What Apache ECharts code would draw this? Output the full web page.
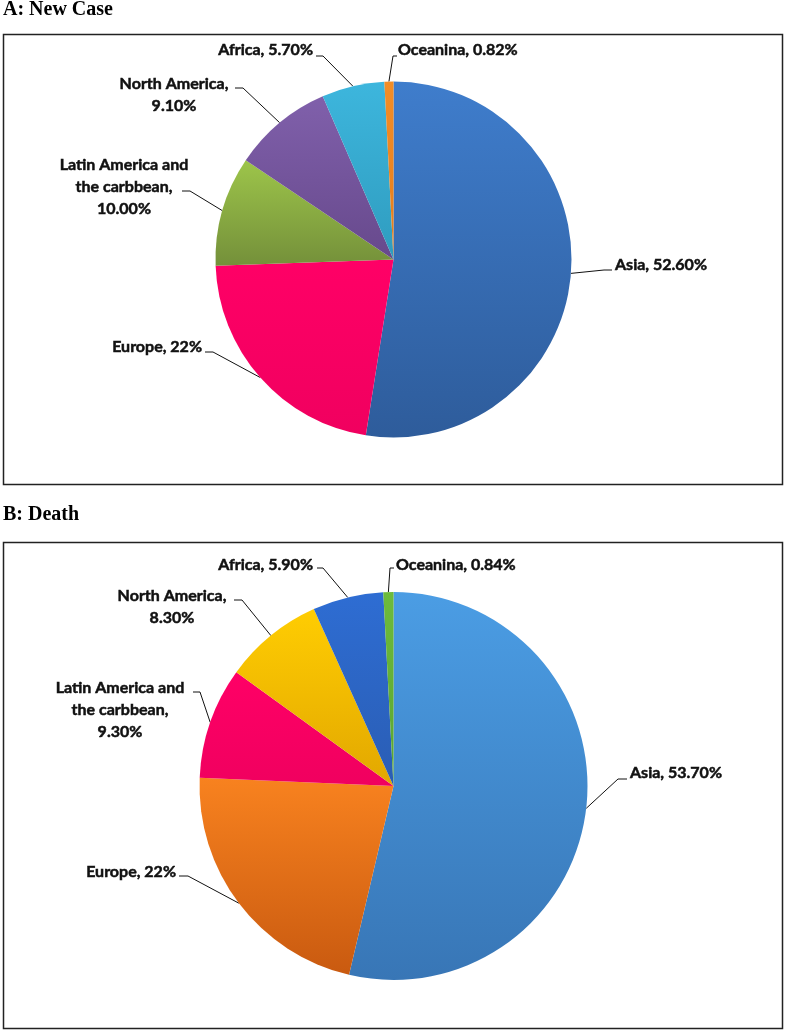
<!DOCTYPE html>
<html>
<head>
<meta charset="utf-8">
<script src="https://cdn.jsdelivr.net/npm/echarts@6/dist/echarts.min.js"></script>
<style>
  html, body { margin: 0; padding: 0; background: #fff; }
  #main { width: 787px; height: 1032px; }
</style>
</head>
<body>
<div id="main"></div>
<script>
// data
var regions = ['Asia', 'Europe', 'Latin America and\nthe carbbean', 'North America', 'Africa', 'Oceanina']
var newCase = [52.6, 22, 10, 9.1, 5.7, 0.82]
var newCaseText = ['52.60%', '22%', '10.00%', '9.10%', '5.70%', '0.82%']
var death = [53.7, 22, 9.3, 8.3, 5.9, 0.84]
var deathText = ['53.70%', '22%', '9.30%', '8.30%', '5.90%', '0.84%']

// colours (top, bottom of the gradient)
var coloursA = [['#3f7dcc', '#2e5c9b'], ['#ff0066', '#f0005f'], ['#9dc54a', '#74903a'],
                ['#8060ab', '#67498c'], ['#3db6dd', '#2f9cbf'], ['#f38d26', '#e57d1a']]
var coloursB = [['#4b9de4', '#3876b6'], ['#f8821f', '#c95a10'], ['#ff0066', '#f0005f'],
                ['#ffcd02', '#e2a700'], ['#2e6dd3', '#2a5db4'], ['#6dbb3c', '#5aa52f']]

// where the labels sit (x, y, align, line breaks, leader bend/end)
var spotsA = [
  { x: 615, y: 265, align: 'left', br: false, bend: [604, 270], end: [612, 270] },
  { x: 202, y: 347, align: 'right', br: false, bend: [213, 352], end: [205, 352] },
  { x: 124, y: 187, align: 'center', br: true, bend: [190, 191], end: [182, 191] },
  { x: 174, y: 95, align: 'center', br: true, bend: [243, 88], end: [235, 88] },
  { x: 313, y: 50, align: 'right', br: false, bend: [323, 56], end: [316, 56] },
  { x: 398, y: 50, align: 'left', br: false, bend: [393, 56], end: [397, 56] }
]
var spotsB = [
  { x: 630, y: 773, align: 'left', br: false, bend: [618, 779], end: [627, 779] },
  { x: 176, y: 872, align: 'right', br: false, bend: [188, 876], end: [179, 876] },
  { x: 120, y: 710, align: 'center', br: true, bend: [200, 692], end: [193, 692] },
  { x: 172, y: 607, align: 'center', br: true, bend: [242, 600], end: [234, 600] },
  { x: 313, y: 565, align: 'right', br: false, bend: [323, 568], end: [317, 568] },
  { x: 396, y: 565, align: 'left', br: false, bend: [390, 568], end: [394, 568] }
]

var myChart = echarts.init(document.getElementById('main'))

function makeData (values, texts, colours, spots) {
  return values.map(function (v, i) {
    var name = regions[i]
    return {
      name: name,
      value: v,
      labelText: name + ',' + (spots[i].br ? '\n' : ' ') + texts[i],
      itemStyle: {
        color: new echarts.graphic.LinearGradient(0, 0, 0, 1, [
          { offset: 0, color: colours[i][0] },
          { offset: 1, color: colours[i][1] }
        ])
      }
    }
  })
}

function makeSeries (center, radius, values, texts, colours, spots) {
  var data = makeData(values, texts, colours, spots)
  return {
    type: 'pie',
    center: center,
    radius: radius,
    startAngle: 90,
    clockwise: true,
    avoidLabelOverlap: false,
    animation: false,
    data: data,
    itemStyle: { borderWidth: 0 },
    label: {
      show: true,
      position: 'outside',
      formatter: function (p) { return data[p.dataIndex].labelText },
      fontFamily: 'Lato',
      fontWeight: 'bold',
      fontSize: 16,
      lineHeight: 22,
      color: '#111',
      textBorderColor: '#111',
      textBorderWidth: 0.5
    },
    labelLine: {
      show: true,
      lineStyle: { color: '#111', width: 1 }
    },
    labelLayout: function (params) {
      var s = spots[params.dataIndex]
      var p0 = params.labelLinePoints ? params.labelLinePoints[0] : s.bend
      return {
        x: s.x,
        y: s.y,
        align: s.align,
        verticalAlign: 'middle',
        labelLinePoints: [p0, s.bend, s.end]
      }
    },
    emphasis: { disabled: true }
  }
}

var option = {
  backgroundColor: '#fff',
  graphic: [
    { type: 'text', left: 3, top: 0, style: { text: 'A: New Case', font: 'bold 20px "Liberation Serif"', fill: '#000' } },
    { type: 'rect', shape: { x: 3.5, y: 34.5, width: 779, height: 450 }, style: { fill: 'none', stroke: '#222', lineWidth: 1.5 }, z: -1 },
    { type: 'text', left: 3, top: 505, style: { text: 'B: Death', font: 'bold 20px "Liberation Serif"', fill: '#000' } },
    { type: 'rect', shape: { x: 3.5, y: 542.5, width: 779, height: 486 }, style: { fill: 'none', stroke: '#222', lineWidth: 1.5 }, z: -1 }
  ],
  series: [
    makeSeries([393.5, 259.5], 178, newCase, newCaseText, coloursA, spotsA),
    makeSeries([393.5, 786], 194, death, deathText, coloursB, spotsB)
  ]
}
myChart.setOption(option)
</script>
</body>
</html>
